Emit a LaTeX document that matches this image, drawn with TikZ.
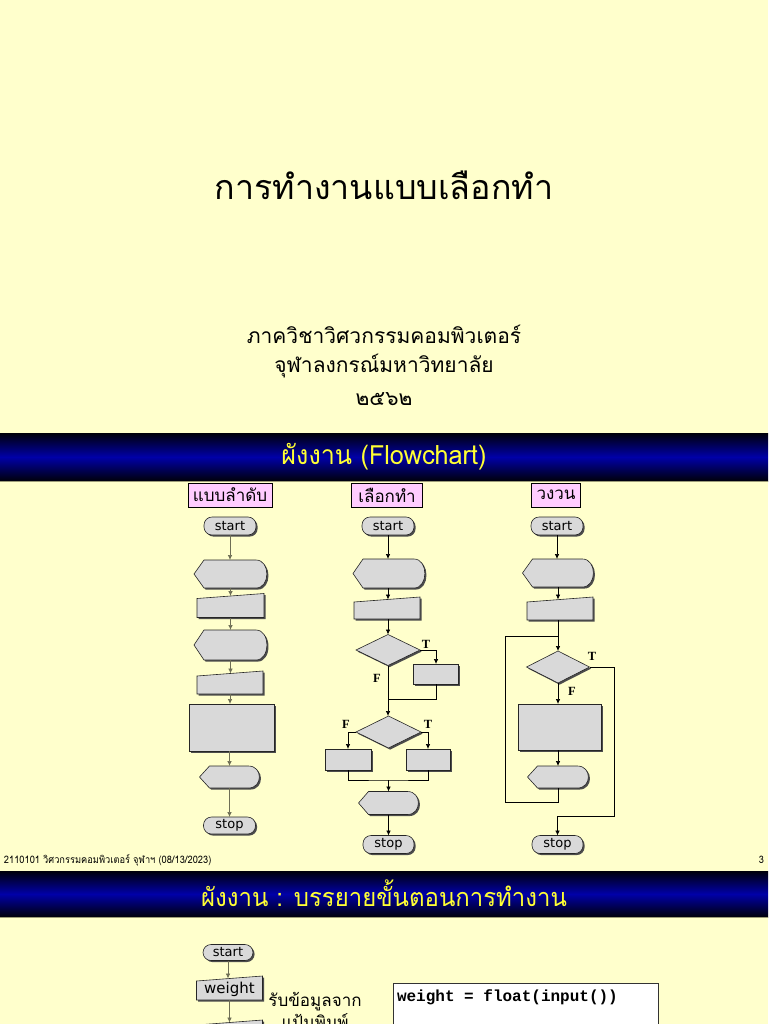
\documentclass[tikz,border=0pt]{standalone}
\usepackage{fontspec}
\usetikzlibrary{shapes.geometric,shadows,arrows.meta}
\newfontfamily\thai[Script=Thai]{Loma}
\newfontfamily\thaic[Script=Thai,FakeStretch=0.95]{Loma}
\newfontfamily\thaif[Script=Thai,FakeStretch=0.9]{Loma}
\newfontfamily\sansf{DejaVu Sans}
\newfontfamily\serifb{Liberation Serif}
\newfontfamily\monob{Liberation Mono}
\definecolor{bg}{HTML}{FFFFCC}
\definecolor{shapegray}{HTML}{D9D9D9}
\definecolor{pinkbox}{HTML}{FFCCFF}
\definecolor{bandblue}{HTML}{0000A8}
\definecolor{bandblack}{HTML}{00000A}
\definecolor{bandyellow}{HTML}{FFFF33}
\definecolor{bandline}{HTML}{9C9C78}
\definecolor{olivegray}{HTML}{6E6E55}
\tikzset{
  every node/.style={inner sep=0pt, outer sep=0pt},
  sz/.style 2 args={minimum width=#1pt, minimum height=#2pt},
  sh/.style={fill=shapegray, draw=black!85, line width=0.6pt,
    drop shadow={shadow xshift=1.6pt, shadow yshift=-1.6pt, fill=black!70, opacity=1}},
  term/.style={sh, rectangle, rounded corners=8pt, font=\sansf\fontsize{13}{13}\selectfont},
  procbox/.style={sh, rectangle},
  dec/.style={sh, diamond},
  ghost/.style={rectangle, draw=none, fill=none},
  lbl/.style={fill=pinkbox, draw=black, line width=0.8pt, minimum height=24pt,
    font=\thai\fontsize{17}{17}\selectfont},
  arr/.style={-{Latex[length=5pt,width=4.5pt]}, line width=0.7pt, draw=black},
  arrg/.style={arr, draw=olivegray},
  ln/.style={line width=0.7pt, draw=black},
  tf/.style={font=\serifb\bfseries\fontsize{12.5}{12.5}\selectfont},
  bandtext/.style={text=bandyellow, font=\thaic\fontsize{26.5}{28}\selectfont},
}
\newcommand\dispshape[1]{%
  \path[sh] (#1.west) -- ([xshift=10pt]#1.north west) -- ([xshift=-11pt]#1.north east)
   .. controls ([xshift=3.5pt]#1.north east) and ([xshift=3.5pt]#1.south east) ..
   ([xshift=-11pt]#1.south east) -- ([xshift=10pt]#1.south west) -- cycle;}
\newcommand\manshape[1]{%
  \path[sh] ([yshift=-5pt]#1.north west) -- (#1.north east) -- (#1.south east) -- (#1.south west) -- cycle;}
\begin{document}
\begin{tikzpicture}[x=1pt,y=-1pt]
\useasboundingbox (0,0) rectangle (768,1024);
\fill[bg] (0,0) rectangle (768,1024);

% ---- title slide
\node[font=\thai\fontsize{34}{40}\selectfont] (title) at (384,185) {การทำงานแบบเลือกทำ};
\node[font=\thai\fontsize{21}{24}\selectfont] (dept) at (384,334) {ภาควิชาวิศวกรรมคอมพิวเตอร์};
\node[font=\thai\fontsize{21}{24}\selectfont] (univ) at (384,366) {จุฬาลงกรณ์มหาวิทยาลัย};
\node[font=\thai\fontsize{21}{24}\selectfont] (year) at (384,399) {๒๕๖๒};

% ---- band 1
\shade[top color=bandblack, bottom color=bandblack, middle color=bandblue] (0,433) rectangle (768,481);
\draw[bandline, line width=0.8pt] (0,481) -- (768,481);
\node[bandtext] (h1) at (384,457) {ผังงาน (Flowchart)};

\node[lbl, minimum width=84pt] (L1) at (230,495) {แบบลำดับ};
\node[lbl, minimum width=71pt] (L2) at (387,495) {เลือกทำ};
\node[lbl, minimum width=49pt] (L3) at (556,495) {วงวน};

% ---- column 1 (sequence)
\node[ghost, sz={73}{28}] (d1a) at (230.5,574) {};
\node[ghost, sz={67}{24}] (m1a) at (230.5,605.5) {};
\node[ghost, sz={73}{30}] (d1b) at (230.5,645) {};
\node[ghost, sz={66}{23}] (m1b) at (230,682.5) {};
\node[ghost, sz={60}{22}] (d1c) at (229.5,777) {};
\dispshape{d1a}\manshape{m1a}\dispshape{d1b}\manshape{m1b}\dispshape{d1c}
\node[term, sz={52}{18}] (s1) at (230,526) {start};
\node[procbox, sz={85}{47}] (p1) at (231.5,727.5) {};
\node[term, sz={52}{17}] (t1) at (229.5,825.5) {stop};
\draw[arrg] (s1.south) -- (s1.south |- d1a.north);
\draw[arrg] (d1a.south) -- ([yshift=-2.5pt]d1a.south |- m1a.north);
\draw[arrg] (m1a.south) -- (m1a.south |- d1b.north);
\draw[arrg] (d1b.south) -- ([yshift=-2.5pt]d1b.south |- m1b.north);
\draw[arrg] (m1b.south) -- (m1b.south |- p1.north);
\draw[arrg] (p1.south -| d1c.north) -- (d1c.north);
\draw[arrg] (d1c.south) -- (d1c.south |- t1.north);

% ---- column 2 (selection)
\node[ghost, sz={72}{29}] (d2a) at (389,573.5) {};
\node[ghost, sz={66}{22}] (m2a) at (387,608) {};
\node[ghost, sz={60}{23}] (d2b) at (388.5,803) {};
\dispshape{d2a}\manshape{m2a}\dispshape{d2b}
\node[term, sz={52}{18}] (s2) at (388,526) {start};
\node[dec, sz={64}{31}] (dec1) at (388,650) {};
\node[procbox, sz={45}{20}] (r2a) at (436,674) {};
\node[dec, sz={65}{32}] (dec2) at (388.5,732) {};
\node[procbox, sz={46}{21}] (r2b) at (348,759.5) {};
\node[procbox, sz={44}{21}] (r2c) at (428,759.5) {};
\node[term, sz={51}{18}] (t2) at (388.5,844.5) {stop};
\coordinate (j1) at (388,699);
\coordinate (j2) at (388.5,780);
\draw[arr] (s2.south) -- (s2.south |- d2a.north);
\draw[arr] (d2a.south -| s2.south) -- ([yshift=-2.5pt]s2.south |- m2a.north);
\draw[arr] (m2a.south -| dec1.north) -- (dec1.north);
\draw[arr] (dec1.east) -| (r2a.north);
\draw[arr] (dec1.south) -- (dec1.south |- dec2.north);
\draw[ln] (r2a.south) |- (j1);
\draw[arr] (dec2.west) -| (r2b.north);
\draw[arr] (dec2.east) -| (r2c.north);
\draw[ln] (r2b.south) |- (j2) -| (r2c.south);
\draw[arr] (j2) -- (j2 |- d2b.north);
\draw[arr] (d2b.south) -- (d2b.south |- t2.north);
\node[tf] (T1) at (426,644) {T};
\node[tf] (F1) at (377,678) {F};
\node[tf] (F2) at (346,724) {F};
\node[tf] (T2) at (428,724) {T};

% ---- column 3 (loop)
\node[ghost, sz={71}{28}] (d3a) at (558,573) {};
\node[ghost, sz={66}{23}] (m3a) at (560,608.5) {};
\node[ghost, sz={61}{22}] (d3b) at (558,777) {};
\dispshape{d3a}\manshape{m3a}\dispshape{d3b}
\node[term, sz={52}{18}] (s3) at (557,526) {start};
\node[dec, sz={63}{32}] (dec3) at (558,667) {};
\node[procbox, sz={83}{46}] (r3) at (559.5,727) {};
\node[term, sz={51}{18}] (t3) at (557.5,844.5) {stop};
\coordinate (j3) at (558,636);
\coordinate (lp2) at (505,802);
\coordinate (rx) at (614,816);
\draw[arr] (s3.south) -- (s3.south |- d3a.north);
\draw[arr] (d3a.south) -- ([yshift=-2.5pt]d3a.south |- m3a.north);
\draw[arr] (m3a.south -| dec3.north) -- (dec3.north);
\draw[ln] (d3b.south) |- (lp2) |- (j3);
\draw[arr] (dec3.south) -- (dec3.south |- r3.north);
\draw[arr] (r3.south -| d3b.north) -- (d3b.north);
\draw[arr] (dec3.east) -| (rx) -| (t3.north);
\node[tf] (T3) at (592,656) {T};
\node[tf] (F3) at (572,691) {F};

% ---- footer
\node[font=\thaif\fontsize{10.3}{10.3}\selectfont, anchor=west] (foot) at (4,860) {2110101 วิศวกรรมคอมพิวเตอร์ จุฬาฯ (08/13/2023)};
\node[font=\thaif\fontsize{10.3}{10.3}\selectfont, anchor=east] (pg) at (764,860) {3};

% ---- band 2
\shade[top color=bandblack, bottom color=bandblack, middle color=bandblue] (0,871) rectangle (768,917);
\draw[bandline, line width=0.8pt] (0,917) -- (768,917);
\node[bandtext, font=\thaic\fontsize{25.2}{28}\selectfont] (h2) at (384,893) {ผังงาน : บรรยายขั้นตอนการทำงาน};

% ---- bottom slide
\node[ghost, sz={66}{24}] (m4) at (229.5,988) {};
\node[ghost, sz={66}{24}] (m5) at (229.5,1032) {};
\manshape{m4}\manshape{m5}
\node[term, sz={50}{16}] (s4) at (228,952.5) {start};
\node[font=\sansf\fontsize{15}{15}\selectfont] (wtxt) at ([yshift=-1.5pt]m4.center) {weight};
\draw[arrg] (s4.south) -- ([yshift=-2.5pt]s4.south |- m4.north);
\draw[arrg] (m4.south) -- ([yshift=-2.5pt]m4.south |- m5.north);
\node[font=\thai\fontsize{17}{17}\selectfont] (note1) at (315,1002) {รับข้อมูลจาก};
\node[font=\thai\fontsize{17}{17}\selectfont] (note2) at (315,1021) {แป้นพิมพ์};
\node[draw=black!80, fill=white, line width=0.8pt, minimum width=265pt, minimum height=60pt, anchor=north west] (code) at (393,983) {};
\node[font=\monob\bfseries\fontsize{16}{16}\selectfont, anchor=west] (codetxt) at (397,997) {weight = float(input())};
\end{tikzpicture}
\end{document}
